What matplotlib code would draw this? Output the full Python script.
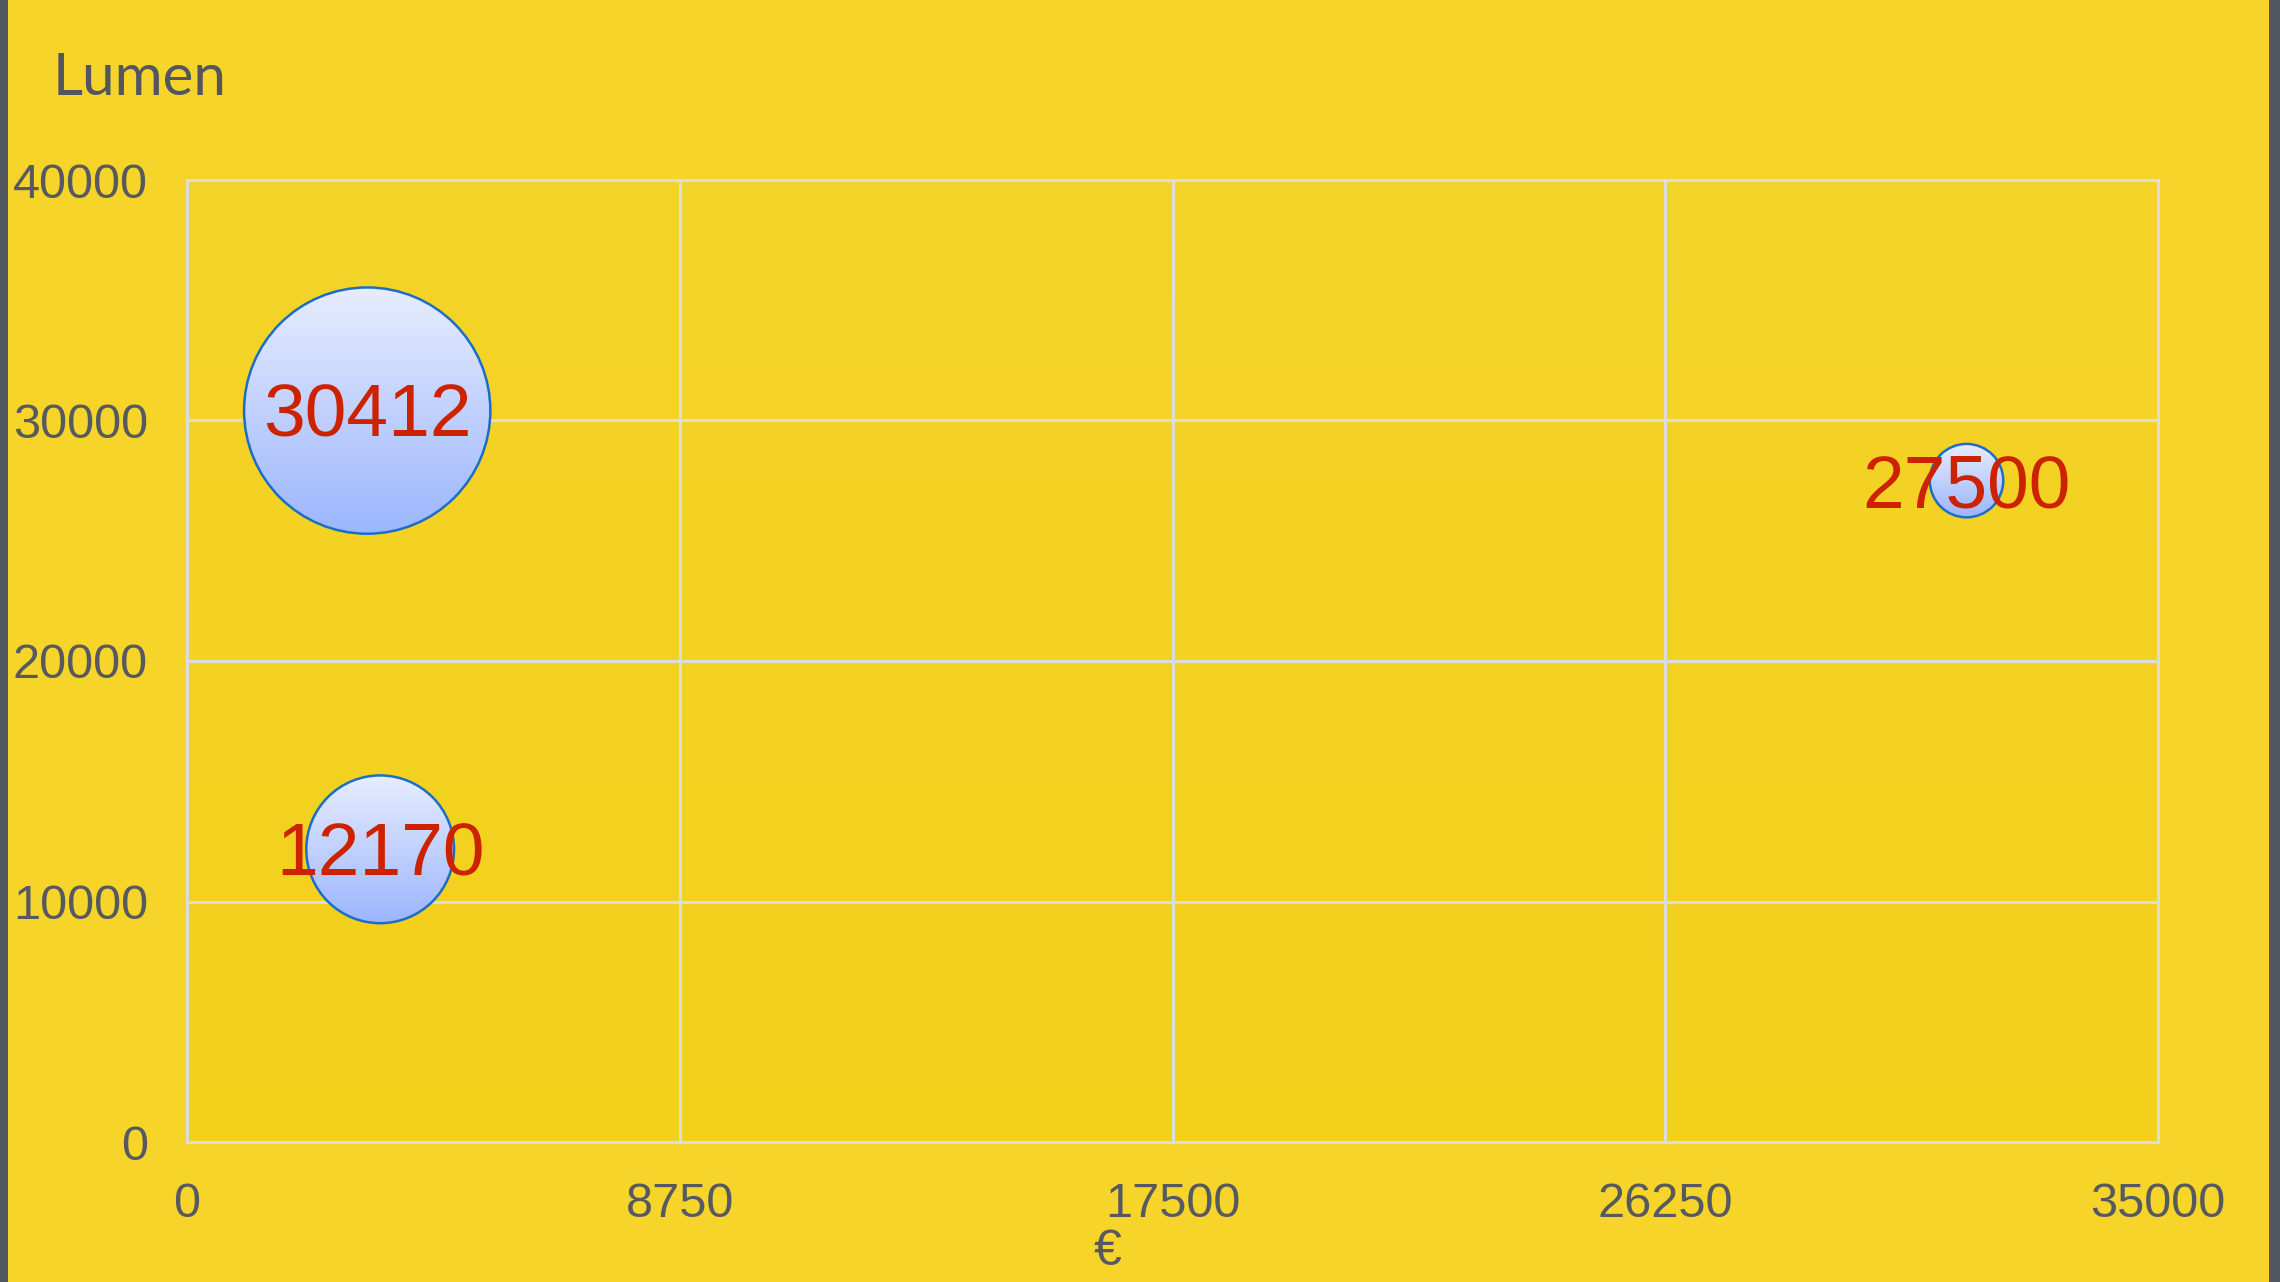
import numpy as np
import matplotlib
matplotlib.use("Agg")
import matplotlib.pyplot as plt
from matplotlib.patches import Ellipse, Rectangle
from matplotlib.colors import LinearSegmentedColormap

# ---- data ----
price_eur = [3200, 3430, 31600]
lumen = [30412, 12170, 27500]
bubble_size = [225, 81, 20]
labels = ["30412", "12170", "27500"]
x_ticks = [0, 8750, 17500, 26250, 35000]
y_ticks = [0, 10000, 20000, 30000, 40000]

W, H, DPI = 2280, 1282, 100
fig = plt.figure(figsize=(W / DPI, H / DPI), dpi=DPI)
fig.patch.set_facecolor("#f6d42a")

L, R, B, T = 187, 2158, 1142, 180
ax = fig.add_axes([L / W, (H - B) / H, (R - L) / W, (B - T) / H])
ax.set_xlim(0, 35000)
ax.set_ylim(0, 40000)
ax.set_facecolor("#f4d222")

# plot area subtle gradient
bg = LinearSegmentedColormap.from_list("bg", ["#f3d01a", "#f5d42a"])
ax.imshow(np.linspace(0, 1, 256).reshape(-1, 1), cmap=bg, origin="lower",
          extent=[0, 35000, 0, 40000], aspect="auto", zorder=0)

grid_c = "#dcdcd8"
ax.set_xticks(x_ticks)
ax.set_yticks(y_ticks)
ax.grid(True, color=grid_c, linewidth=2.2, zorder=1)
for s in ax.spines.values():
    s.set_color(grid_c)
    s.set_linewidth(2.2)
ax.tick_params(length=0, colors="#565a60", labelsize=35, pad=29)
ax.tick_params(axis="y", pad=28)
for lab in ax.get_xticklabels() + ax.get_yticklabels():
    lab.set_fontfamily("Liberation Sans")

# bubbles
pw, ph = R - L, B - T
max_r = 0.256 * min(pw, ph) / 2
smax = max(bubble_size)
bub = LinearSegmentedColormap.from_list("bub", ["#9cb6fd", "#e7edff"])
for x, y, s, lab in zip(price_eur, lumen, bubble_size, labels):
    r_px = max_r * np.sqrt(s / smax)
    wd = 2 * r_px * 35000 / pw
    ht = 2 * r_px * 40000 / ph
    e = Ellipse((x, y), wd, ht, facecolor="none", edgecolor="#1a6ec8",
                linewidth=1.8, zorder=4)
    ax.add_patch(e)
    im = ax.imshow(np.linspace(0, 1, 256).reshape(-1, 1), cmap=bub, origin="lower",
                   extent=[x - wd / 2, x + wd / 2, y - ht / 2, y + ht / 2],
                   aspect="auto", zorder=3)
    im.set_clip_path(e)
    ax.annotate(lab, (x, y), xytext=(0, -19), textcoords="offset points",
                ha="center", va="baseline", fontsize=54, color="#cc2200",
                family="Liberation Sans", zorder=5)

ax.set_xlim(0, 35000)
ax.set_ylim(0, 40000)

fig.text(53 / W, 1 - 95 / H, "Lumen", fontsize=42, color="#52565e",
         family="Lato", ha="left", va="baseline")
fig.text(1108 / W, 1 - 1265 / H, "€", fontsize=36, color="#565a60",
         family="Liberation Sans", ha="center", va="baseline")

fig.add_artist(Rectangle((0, 0), 8 / W, 1, transform=fig.transFigure,
                         facecolor="#52565e", edgecolor="none"))
fig.add_artist(Rectangle((2269 / W, 0), 11 / W, 1, transform=fig.transFigure,
                         facecolor="#52565e", edgecolor="none"))

fig.savefig("out.png", dpi=DPI, facecolor=fig.get_facecolor())
